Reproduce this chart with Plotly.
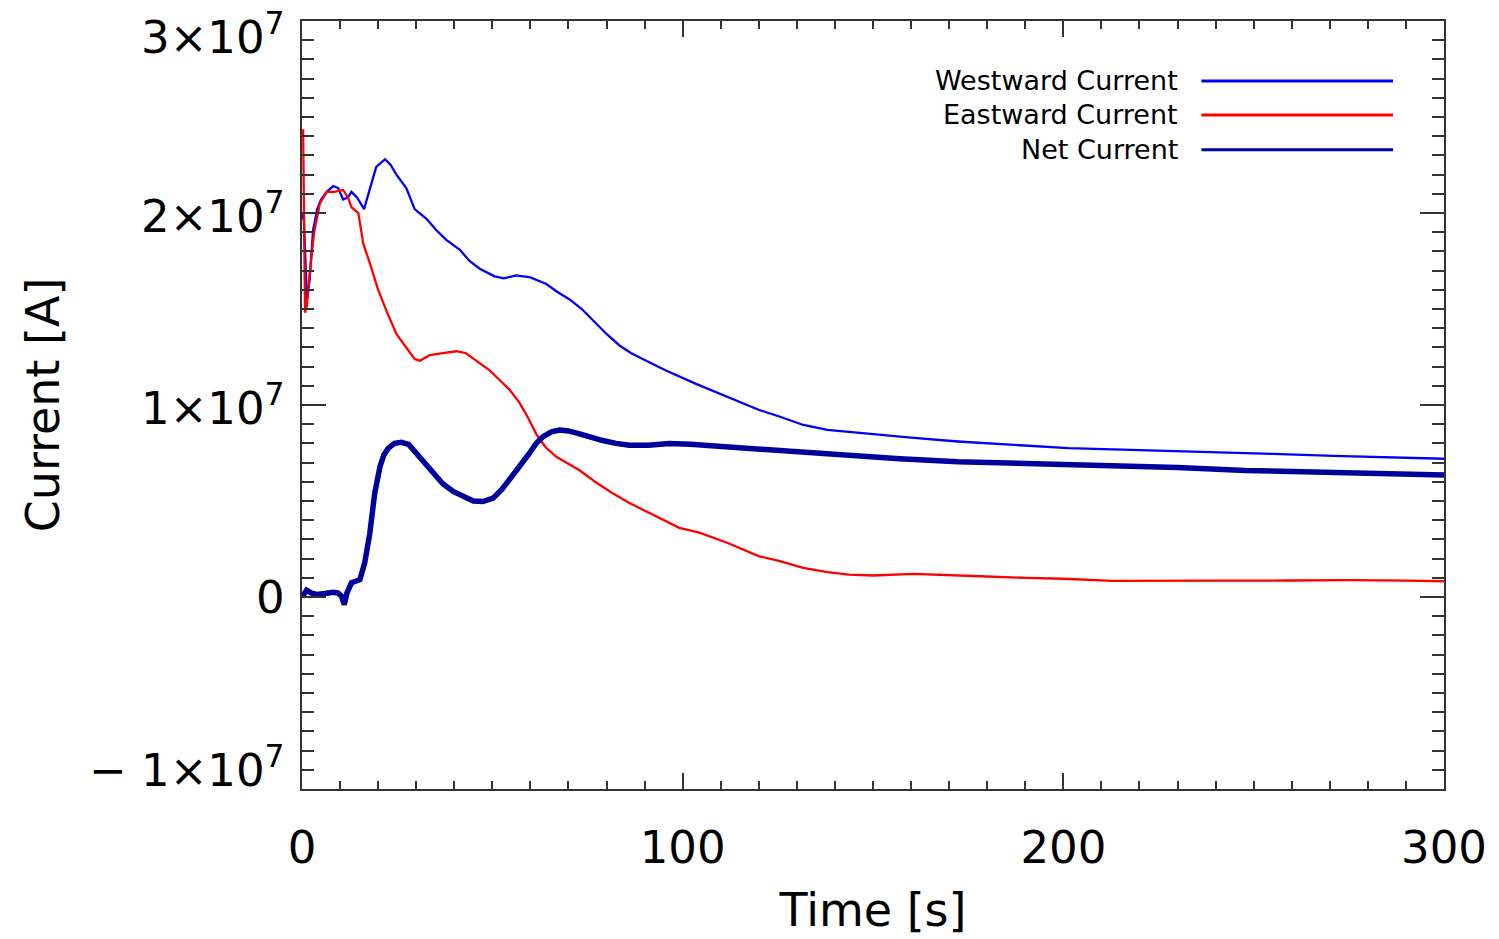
import numpy as np
import plotly.graph_objects as go

# ---------------- data (currents in units of 1e7 A) ----------------
west_t = [0, 0.5, 1.3, 2.0, 2.9, 4.0, 5.0, 6.5, 8.2, 9.5, 10.8, 12.0, 13.0, 14.5, 16.3, 17.5,
          19.5, 21.8, 23.3, 24.8, 27.4, 29.6, 32.7, 35.3, 37.9, 41.4, 44.0, 46.7, 50.6, 53.0,
          56.3, 60.0, 64.2, 67.0, 70.3, 73.5, 76.4, 80.0, 83.4, 86.5, 89.5, 95.6, 103.5, 112.1,
          120.1, 125.4, 131.7, 138.0, 146.8, 160.0, 172.3, 185.0, 201.3, 220.0, 236.2, 255.0,
          271.0, 285.0, 300.0]
west_v = [2.0, 1.96, 1.55, 1.65, 1.91, 2.02, 2.07, 2.11, 2.14, 2.13, 2.07, 2.08, 2.11, 2.08,
          2.02, 2.10, 2.24, 2.28, 2.25, 2.20, 2.13, 2.02, 1.97, 1.91, 1.86, 1.81, 1.75, 1.71,
          1.67, 1.66, 1.675, 1.665, 1.63, 1.59, 1.55, 1.50, 1.44, 1.37, 1.31, 1.27, 1.24, 1.18,
          1.11, 1.04, 0.974, 0.94, 0.896, 0.87, 0.853, 0.83, 0.81, 0.795, 0.775, 0.765, 0.757,
          0.745, 0.735, 0.728, 0.72]

east_t = [0, 0.3, 0.8, 1.3, 2.1, 3.2, 4.7, 6.5, 8.5, 10.8, 12.1, 13.0, 14.8, 16.1, 17.8, 20.0,
          22.2, 24.8, 27.0, 29.6, 31.0, 33.6, 37.0, 40.6, 43.0, 45.0, 47.0, 49.3, 51.9, 54.5,
          57.2, 59.5, 61.5, 64.0, 66.8, 69.5, 72.9, 77.0, 81.6, 86.0, 90.4, 95.0, 99.1, 104.4,
          112.0, 120.1, 125.0, 131.7, 138.0, 143.7, 150.0, 160.7, 170.0, 178.1, 190.0, 200.0,
          213.0, 225.0, 240.0, 259.4, 275.0, 290.0, 300.0]
east_v = [2.43, 2.43, 1.48, 1.52, 1.70, 1.90, 2.05, 2.11, 2.11, 2.12, 2.08, 2.03, 2.00, 1.84,
          1.74, 1.60, 1.49, 1.37, 1.31, 1.24, 1.23, 1.26, 1.27, 1.28, 1.27, 1.24, 1.21, 1.18,
          1.13, 1.08, 1.01, 0.93, 0.85, 0.78, 0.73, 0.70, 0.66, 0.60, 0.54, 0.49, 0.445, 0.40,
          0.36, 0.335, 0.28, 0.212, 0.19, 0.152, 0.13, 0.117, 0.112, 0.12, 0.115, 0.108, 0.10,
          0.095, 0.084, 0.083, 0.085, 0.086, 0.088, 0.085, 0.082]

net_t = [0, 1.2, 2.5, 3.9, 6.0, 8.2, 9.5, 10.4, 11.1, 11.8, 13.0, 15.2, 16.5, 17.8, 19.1, 20.5,
         21.5, 22.7, 24.3, 26.1, 28.0, 30.0, 32.0, 34.4, 37.0, 39.7, 42.5, 45.0, 47.5, 50.2,
         52.5, 55.4, 57.5, 59.8, 61.5, 63.3, 65.5, 67.7, 70.0, 72.9, 76.0, 79.0, 82.5, 86.0,
         91.0, 96.5, 102.0, 107.9, 115.0, 124.5, 133.0, 143.3, 157.0, 172.3, 183.0, 195.0,
         213.0, 230.0, 247.8, 265.0, 282.6, 300.0]
net_v = [0.0, 0.035, 0.02, 0.013, 0.018, 0.025, 0.02, 0.004, -0.04, 0.02, 0.074, 0.09, 0.18,
         0.33, 0.54, 0.68, 0.74, 0.775, 0.80, 0.806, 0.795, 0.75, 0.70, 0.645, 0.59, 0.55, 0.52,
         0.50, 0.497, 0.515, 0.56, 0.63, 0.69, 0.75, 0.80, 0.835, 0.86, 0.87, 0.865, 0.85, 0.83,
         0.815, 0.80, 0.79, 0.79, 0.80, 0.795, 0.787, 0.777, 0.763, 0.75, 0.735, 0.72, 0.705,
         0.70, 0.69, 0.68, 0.675, 0.659, 0.65, 0.64, 0.636]

series_names = ["Westward Current", "Eastward Current", "Net Current"]
series_colors = ["#0000ff", "#ff0000", "#00009c"]

x_tickvals = [0, 100, 200, 300]
x_ticktext = ["0", "100", "200", "300"]
y_tickvals = [-1e7, 0, 1e7, 2e7, 3e7]
y_ticktext = ["\u2212 1\u00d710<sup>7</sup>", "0", "1\u00d710<sup>7</sup>",
              "2\u00d710<sup>7</sup>", "3\u00d710<sup>7</sup>"]
# IDL keeps the end labels inside the axis range: label anchor positions (data units)
y_label_pos = [-0.89e7, 0, 1e7, 2e7, 2.93e7]

SCALE = 1e7
FONT = "DejaVu Sans"

fig = go.Figure()
fig.add_trace(go.Scatter(x=west_t, y=np.array(west_v) * SCALE, mode="lines",
                         line=dict(color=series_colors[0], width=2.3), name=series_names[0]))
fig.add_trace(go.Scatter(x=east_t, y=np.array(east_v) * SCALE, mode="lines",
                         line=dict(color=series_colors[1], width=2.3), name=series_names[1]))
fig.add_trace(go.Scatter(x=net_t, y=np.array(net_v) * SCALE, mode="lines",
                         line=dict(color=series_colors[2], width=5.5), name=series_names[2]))

axis_col = "#333333"
fig.update_xaxes(range=[0, 300], tickvals=x_tickvals, ticktext=x_ticktext,
                 ticks="inside", ticklen=16, tickwidth=1.5, tickcolor=axis_col,
                 minor=dict(dtick=10, ticks="inside", ticklen=8, tickwidth=1.5, tickcolor=axis_col),
                 showline=True, linecolor=axis_col, linewidth=1.5, mirror="allticks",
                 showgrid=False, zeroline=False,
                 tickfont=dict(family=FONT, size=45, color="black"),
                 ticklabelstandoff=18, ticklabeloverflow="allow",
                 title=dict(text="Time [s]", font=dict(family=FONT, size=46, color="black"),
                            standoff=21))
fig.update_yaxes(range=[-1e7, 3e7], tickvals=y_tickvals,
                 ticks="inside", ticklen=24, tickwidth=1.5, tickcolor=axis_col,
                 minor=dict(dtick=1e6, ticks="inside", ticklen=12, tickwidth=1.5, tickcolor=axis_col),
                 showline=True, linecolor=axis_col, linewidth=1.5, mirror="allticks",
                 showgrid=False, zeroline=False, showticklabels=False,
                 title=dict(text="Current [A]", font=dict(family=FONT, size=46, color="black"),
                            standoff=226))

PL, PR, PT, PB = 302, 1446, 21, 790

# y tick labels
for txt, yv in zip(y_ticktext, y_label_pos):
    fig.add_annotation(x=(287 - PL) / (PR - PL), y=yv, xref="paper", yref="y",
                       text=txt, showarrow=False, xanchor="right", yanchor="middle",
                       font=dict(family=FONT, size=45, color="black"))

# legend drawn as right-aligned labels with line samples (upper right)
leg_y_px = [81, 115, 150]
for name, col, ypx in zip(series_names, series_colors, leg_y_px):
    yp = (PB - ypx) / (PB - PT)
    fig.add_annotation(x=(1182 - PL) / (PR - PL), y=yp, xref="paper", yref="paper",
                       text=name, showarrow=False, xanchor="right", yanchor="middle",
                       font=dict(family=FONT, size=27, color="black"))
    fig.add_shape(type="line", xref="paper", yref="paper",
                  x0=(1203 - PL) / (PR - PL), x1=(1395 - PL) / (PR - PL), y0=yp, y1=yp,
                  line=dict(color=col, width=3))

fig.update_layout(width=1499, height=939, showlegend=False,
                  margin=dict(l=PL, r=1499 - PR, t=PT, b=939 - PB),
                  plot_bgcolor="white", paper_bgcolor="white")

fig.write_html("out.html")
